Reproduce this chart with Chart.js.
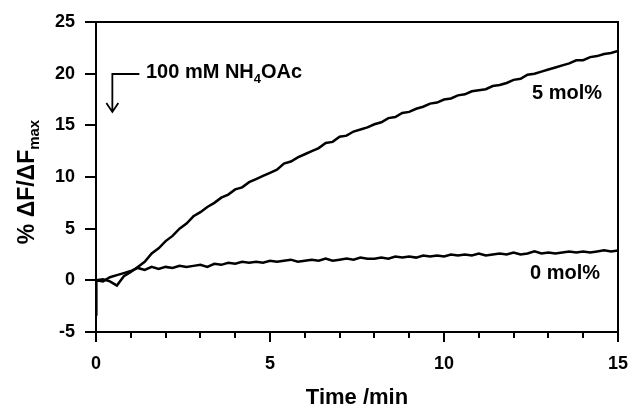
<!DOCTYPE html>
<html>
<head>
<meta charset="utf-8">
<script src="https://cdn.jsdelivr.net/npm/chart.js@4.4.1/dist/chart.umd.min.js"></script>
<style>
  html, body { margin: 0; padding: 0; background: #fff; }
  #wrap { width: 632px; height: 411px; }
</style>
</head>
<body>
<div id="wrap"><canvas id="myChart"></canvas></div>
<script>
// time axis (min), sampled every 0.2 min
const time = [0, 0.2, 0.4, 0.6, 0.8, 1.0, 1.2, 1.4, 1.6, 1.8, 2.0, 2.2, 2.4, 2.6, 2.8, 3.0, 3.2, 3.4, 3.6, 3.8,
  4.0, 4.2, 4.4, 4.6, 4.8, 5.0, 5.2, 5.4, 5.6, 5.8, 6.0, 6.2, 6.4, 6.6, 6.8, 7.0, 7.2, 7.4, 7.6, 7.8,
  8.0, 8.2, 8.4, 8.6, 8.8, 9.0, 9.2, 9.4, 9.6, 9.8, 10.0, 10.2, 10.4, 10.6, 10.8, 11.0, 11.2, 11.4, 11.6, 11.8,
  12.0, 12.2, 12.4, 12.6, 12.8, 13.0, 13.2, 13.4, 13.6, 13.8, 14.0, 14.2, 14.4, 14.6, 14.8, 15.0];

const mol5 = [0.0, 0.1, -0.1, -0.5, 0.4, 0.8, 1.3, 1.8, 2.6, 3.1, 3.8, 4.3, 5.0, 5.5, 6.2, 6.6, 7.1, 7.5, 8.0, 8.3,
  8.8, 9.0, 9.5, 9.8, 10.1, 10.4, 10.7, 11.3, 11.5, 11.9, 12.2, 12.5, 12.8, 13.3, 13.4, 13.9, 14.0, 14.4, 14.6, 14.8,
  15.1, 15.3, 15.7, 15.8, 16.2, 16.3, 16.6, 16.8, 17.1, 17.2, 17.5, 17.6, 17.9, 18.0, 18.3, 18.4, 18.5, 18.8, 18.9, 19.1,
  19.4, 19.5, 19.9, 20.0, 20.2, 20.4, 20.6, 20.8, 21.0, 21.3, 21.3, 21.6, 21.7, 21.9, 22.0, 22.2];

const mol0 = [0.0, -0.1, 0.3, 0.5, 0.7, 0.9, 1.2, 1.0, 1.3, 1.1, 1.3, 1.2, 1.4, 1.3, 1.4, 1.5, 1.3, 1.6, 1.5, 1.7,
  1.6, 1.8, 1.7, 1.8, 1.7, 1.9, 1.8, 1.9, 2.0, 1.8, 1.9, 2.0, 1.9, 2.1, 1.9, 2.0, 2.1, 2.0, 2.2, 2.1,
  2.1, 2.2, 2.1, 2.3, 2.2, 2.3, 2.2, 2.4, 2.3, 2.4, 2.3, 2.5, 2.4, 2.5, 2.4, 2.6, 2.4, 2.5, 2.6, 2.5,
  2.7, 2.5, 2.6, 2.8, 2.6, 2.7, 2.6, 2.7, 2.8, 2.7, 2.8, 2.7, 2.8, 2.9, 2.8, 2.9];

// initial dip of the 0 mol% trace right at t = 0
const mol0StartTime = [0, 0.01];
const mol0StartValue = [-3.3, 0.0];

const xTicks = [0, 5, 10, 15];
const yTicks = [-5, 0, 5, 10, 15, 20, 25];

const FONT = '"Liberation Sans", Arial, Helvetica, sans-serif';

function pts(xs, ys) {
  return xs.map((x, i) => ({ x: x, y: ys[i] }));
}

const mol0Points = pts(mol0StartTime, mol0StartValue).concat(pts(time.slice(1), mol0.slice(1)));

// frame, minor ticks and the text labels
const decor = {
  id: 'decor',
  afterDraw(chart) {
    const ctx = chart.ctx;
    const a = chart.chartArea;
    const xs = chart.scales.x;
    ctx.save();
    ctx.strokeStyle = '#000';
    ctx.lineWidth = 2;
    ctx.strokeRect(a.left, a.top, a.right - a.left, a.bottom - a.top);

    // minor x ticks every minute
    ctx.beginPath();
    for (let t = 1; t < 15; t++) {
      if (t % 5 === 0) continue;
      const px = Math.round(xs.getPixelForValue(t));
      ctx.moveTo(px, a.bottom);
      ctx.lineTo(px, a.bottom + 6);
    }
    ctx.stroke();

    ctx.fillStyle = '#000';
    ctx.textBaseline = 'middle';

    // axis titles
    ctx.font = 'bold 22px ' + FONT;
    ctx.textAlign = 'center';
    ctx.fillText('Time /min', (a.left + a.right) / 2, 398);

    ctx.save();
    ctx.translate(34, 182);
    ctx.rotate(-Math.PI / 2);
    ctx.textAlign = 'left';
    ctx.textBaseline = 'alphabetic';
    const main = '% \u0394F/\u0394F';
    ctx.font = 'bold 23px ' + FONT;
    const w1 = ctx.measureText(main).width;
    ctx.font = 'bold 15px ' + FONT;
    const w2 = ctx.measureText('max').width;
    let sx = -(w1 + w2) / 2;
    ctx.font = 'bold 23px ' + FONT;
    ctx.fillText(main, sx, 0);
    ctx.font = 'bold 15px ' + FONT;
    ctx.fillText('max', sx + w1, 5);
    ctx.restore();

    // series labels
    ctx.font = 'bold 20px ' + FONT;
    ctx.textAlign = 'left';
    ctx.fillText('5 mol%', 532, 93);
    ctx.fillText('0 mol%', 530, 273);

    // addition annotation with arrow
    const ax = xs.getPixelForValue(0.47);
    const ay = 74;
    ctx.lineWidth = 1.8;
    ctx.beginPath();
    ctx.moveTo(ax + 27, ay);
    ctx.lineTo(ax, ay);
    ctx.lineTo(ax, ay + 38);
    ctx.moveTo(ax - 6, ay + 29);
    ctx.lineTo(ax, ay + 38);
    ctx.lineTo(ax + 6, ay + 29);
    ctx.stroke();

    let tx = 146;
    ctx.font = 'bold 20px ' + FONT;
    ctx.fillText('100 mM NH', tx, 72);
    tx += ctx.measureText('100 mM NH').width;
    ctx.font = 'bold 13px ' + FONT;
    ctx.fillText('4', tx, 79);
    tx += ctx.measureText('4').width;
    ctx.font = 'bold 20px ' + FONT;
    ctx.fillText('OAc', tx, 72);
    ctx.restore();
  }
};

const config = {
  type: 'line',
  data: {
    datasets: [
      {
        label: '5 mol%',
        data: pts(time, mol5),
        borderColor: '#000',
        borderWidth: 2.5,
        pointRadius: 0,
        tension: 0
      },
      {
        label: '0 mol%',
        data: mol0Points,
        borderColor: '#000',
        borderWidth: 2.5,
        pointRadius: 0,
        tension: 0
      }
    ]
  },
  options: {
    responsive: true,
    maintainAspectRatio: false,
    animation: false,
    layout: { padding: { top: 22, right: 14, left: 0, bottom: 0 } },
    plugins: {
      legend: { display: false },
      tooltip: { enabled: false }
    },
    scales: {
      x: {
        type: 'linear',
        min: 0,
        max: 15,
        afterFit(scale) {
          scale.height = 79;
          scale.paddingLeft = 0;
          scale.paddingRight = 0;
        },
        afterBuildTicks(scale) { scale.ticks = xTicks.map(v => ({ value: v })); },
        border: { color: '#000', width: 2 },
        grid: { drawOnChartArea: false, color: '#000', tickLength: 10, lineWidth: 2 },
        ticks: {
          color: '#000',
          padding: 11,
          maxRotation: 0,
          font: { family: FONT, size: 18, weight: 'bold' }
        }
      },
      y: {
        min: -5,
        max: 25,
        afterFit(scale) {
          scale.width = 96;
          scale.paddingTop = 0;
          scale.paddingBottom = 0;
        },
        afterBuildTicks(scale) { scale.ticks = yTicks.map(v => ({ value: v })); },
        border: { color: '#000', width: 2 },
        grid: { drawOnChartArea: false, color: '#000', tickLength: 11, lineWidth: 2 },
        ticks: {
          color: '#000',
          padding: 10,
          font: { family: FONT, size: 18, weight: 'bold' }
        }
      }
    }
  },
  plugins: [decor]
};

const myChart = new Chart(document.getElementById('myChart'), config);
</script>
</body>
</html>
